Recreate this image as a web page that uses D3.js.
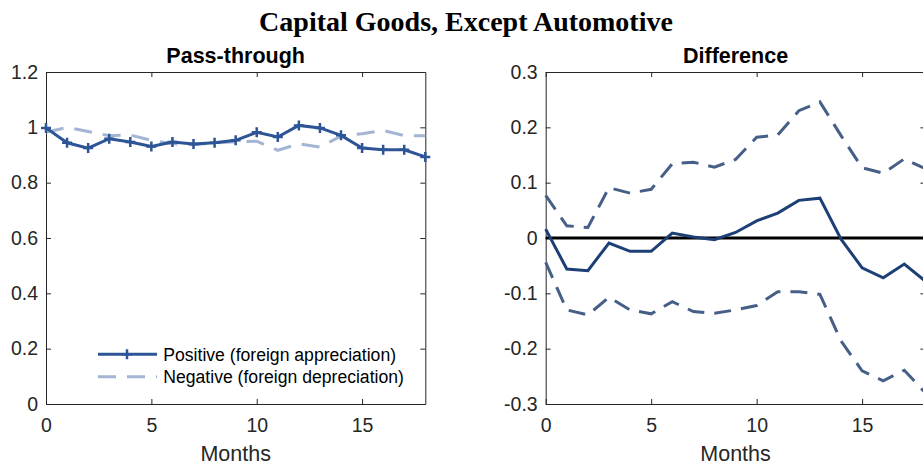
<!DOCTYPE html>
<html>
<head>
<meta charset="utf-8">
<script src="https://cdn.jsdelivr.net/npm/d3@7"></script>
<style>
  body { margin: 0; background: #fff; }
  svg { display: block; font-family: "Liberation Sans", Arial, sans-serif; }
</style>
</head>
<body>
<div id="chart"></div>
<script>
// months on the horizontal axis
const months = d3.range(0, 19);

// pass-through, positive shock (foreign appreciation)
const positive = [0.998, 0.944, 0.925, 0.959, 0.947, 0.931, 0.947, 0.940, 0.944, 0.953,
	0.982, 0.965, 1.007, 0.998, 0.971, 0.925, 0.919, 0.919, 0.893];
// pass-through, negative shock (foreign depreciation)
const negative = [0.982, 1.000, 0.985, 0.970, 0.972, 0.953, 0.941, 0.937, 0.944, 0.948,
	0.950, 0.917, 0.940, 0.929, 0.968, 0.977, 0.989, 0.970, 0.970];

// difference with confidence band
const diff = [0.016, -0.056, -0.059, -0.009, -0.024, -0.024, 0.009, 0.002, -0.003, 0.010,
	0.031, 0.045, 0.068, 0.072, -0.002, -0.054, -0.072, -0.047, -0.078];
const upper = [0.077, 0.022, 0.019, 0.091, 0.081, 0.088, 0.134, 0.137, 0.128, 0.142,
	0.182, 0.186, 0.230, 0.246, 0.185, 0.127, 0.117, 0.143, 0.125];
const lower = [-0.044, -0.130, -0.139, -0.107, -0.130, -0.137, -0.115, -0.133, -0.136, -0.130,
	-0.122, -0.097, -0.097, -0.102, -0.186, -0.240, -0.258, -0.239, -0.280];

const xTicks = [0, 5, 10, 15];
const passTicks = [0, 0.2, 0.4, 0.6, 0.8, 1, 1.2];
const diffTicks = [-0.3, -0.2, -0.1, 0, 0.1, 0.2, 0.3];

const mainTitle = "Capital Goods, Except Automotive";
const legendLabels = ["Positive (foreign appreciation)", "Negative (foreign depreciation)"];

const W = 923, H = 468;
const axisColor = "#262626";
const plotTop = 72, plotBottom = 404;

const svg = d3.select("#chart").append("svg")
	.attr("width", W)
	.attr("height", H);

svg.append("text")
	.attr("x", 466)
	.attr("y", 31)
	.attr("text-anchor", "middle")
	.style("font-family", "'Liberation Serif', 'Times New Roman', serif")
	.style("font-weight", "bold")
	.style("font-size", "28px")
	.text(mainTitle);

// draw one MATLAB-like axes box with inward ticks
function makeAxes(left, right, yDomain, yTicks, title, fmt) {
	const x = d3.scaleLinear().domain([0, 18]).range([left, right]);
	const y = d3.scaleLinear().domain(yDomain).range([plotBottom, plotTop]);

	const g = svg.append("g");

	g.append("g")
		.attr("transform", "translate(0," + plotBottom + ")")
		.call(d3.axisBottom(x).tickValues(xTicks).tickSizeInner(-5).tickSizeOuter(0).tickPadding(14));
	g.append("g")
		.attr("transform", "translate(0," + plotTop + ")")
		.call(d3.axisTop(x).tickValues(xTicks).tickSizeInner(-5).tickSizeOuter(0).tickFormat(""));
	g.append("g")
		.attr("transform", "translate(" + left + ",0)")
		.call(d3.axisLeft(y).tickValues(yTicks).tickSizeInner(-5).tickSizeOuter(0).tickPadding(8).tickFormat(fmt));
	g.append("g")
		.attr("transform", "translate(" + right + ",0)")
		.call(d3.axisRight(y).tickValues(yTicks).tickSizeInner(-5).tickSizeOuter(0).tickFormat(""));

	g.selectAll(".domain, .tick line").attr("stroke", axisColor).attr("stroke-width", 1);
	g.selectAll(".tick text")
		.attr("fill", axisColor)
		.style("font-family", "'Liberation Sans', Arial, sans-serif")
		.style("font-size", "19.5px");

	svg.append("text")
		.attr("x", (left + right) / 2)
		.attr("y", 62.5)
		.attr("text-anchor", "middle")
		.style("font-weight", "bold")
		.style("font-size", "21.5px")
		.text(title);

	svg.append("text")
		.attr("x", (left + right) / 2)
		.attr("y", 460.5)
		.attr("text-anchor", "middle")
		.attr("fill", axisColor)
		.style("font-size", "21.5px")
		.text("Months");

	return { x, y };
}

const fmtPass = d => d === 0 || d === 1 ? String(d) : d3.format(".1f")(d);
const fmtDiff = d => d === 0 ? "0" : d3.format(".1f")(d).replace("−", "-");

const a = makeAxes(46, 425.3, [0, 1.2], passTicks, "Pass-through", fmtPass);
const b = makeAxes(545.7, 925.4, [-0.3, 0.3], diffTicks, "Difference", fmtDiff);

// ---- left panel ----
const lineA = vals => d3.line().x((d, i) => a.x(months[i])).y(d => a.y(d))(vals);

svg.append("path")
	.attr("d", lineA(negative))
	.attr("fill", "none")
	.attr("stroke", "#a3b5d3")
	.attr("stroke-width", 3)
	.attr("stroke-dasharray", "18,11");

svg.append("path")
	.attr("d", lineA(positive))
	.attr("fill", "none")
	.attr("stroke", "#2c5496")
	.attr("stroke-width", 3);

function plus(sel, cx, cy) {
	sel.append("path")
		.attr("d", `M${cx - 5},${cy}H${cx + 5}M${cx},${cy - 5}V${cy + 5}`)
		.attr("stroke", "#2c5496")
		.attr("stroke-width", 2.5);
}

const markers = svg.append("g");
positive.forEach((v, i) => plus(markers, a.x(months[i]), a.y(v)));

// legend
const legend = svg.append("g");
legend.append("line")
	.attr("x1", 98).attr("x2", 157).attr("y1", 354.3).attr("y2", 354.3)
	.attr("stroke", "#2c5496").attr("stroke-width", 3);
plus(legend, 127, 354.3);
legend.append("line")
	.attr("x1", 98).attr("x2", 157).attr("y1", 376.7).attr("y2", 376.7)
	.attr("stroke", "#a3b5d3").attr("stroke-width", 3)
	.attr("stroke-dasharray", "18,11");
legend.selectAll("text")
	.data(legendLabels)
	.enter().append("text")
	.attr("x", 163.3)
	.attr("y", (d, i) => [354.3, 376.7][i] + 6.3)
	.attr("fill", "#000")
	.style("font-size", "17.6px")
	.text(d => d);

// ---- right panel ----
const lineB = vals => d3.line().x((d, i) => b.x(months[i])).y(d => b.y(d))(vals);

svg.append("line")
	.attr("x1", b.x(0)).attr("x2", b.x(18))
	.attr("y1", b.y(0)).attr("y2", b.y(0))
	.attr("stroke", "#000").attr("stroke-width", 3);

[upper, lower].forEach(vals => {
	svg.append("path")
		.attr("d", lineB(vals))
		.attr("fill", "none")
		.attr("stroke", "#465f87")
		.attr("stroke-width", 3)
		.attr("stroke-dasharray", "17,10");
});

svg.append("path")
	.attr("d", lineB(diff))
	.attr("fill", "none")
	.attr("stroke", "#1c3f76")
	.attr("stroke-width", 3);
</script>
</body>
</html>
